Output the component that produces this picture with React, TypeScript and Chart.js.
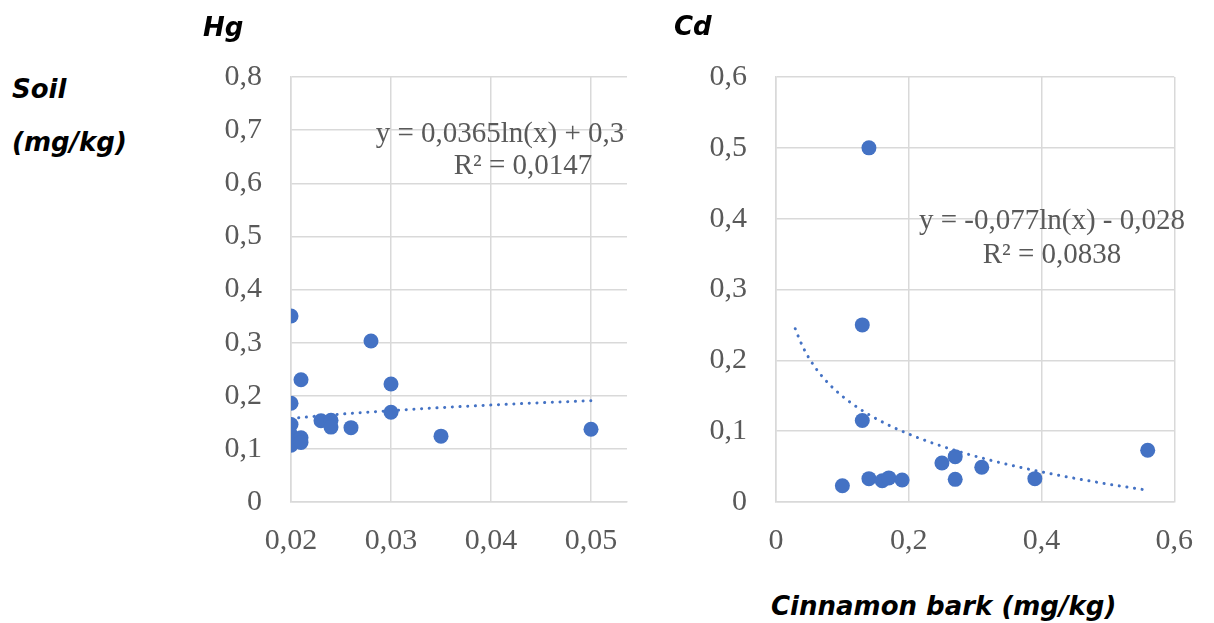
import React, { useEffect, useRef } from "react";
import { Chart, registerables } from "chart.js";
Chart.register(...registerables);

// ---- Hg (left) ----
const HG_X = [0.02, 0.028, 0.021, 0.03, 0.02, 0.02, 0.02, 0.02, 0.02, 0.021, 0.021, 0.023, 0.024, 0.024, 0.026, 0.03, 0.035, 0.05];
const HG_Y = [0.35, 0.303, 0.23, 0.222, 0.186, 0.146, 0.126, 0.115, 0.107, 0.121, 0.112, 0.153, 0.154, 0.141, 0.14, 0.169, 0.124, 0.137];
const HG_X_TICKS = [0.02, 0.03, 0.04, 0.05];
const HG_Y_TICKS = [0, 0.1, 0.2, 0.3, 0.4, 0.5, 0.6, 0.7, 0.8];
const HG_TREND_COEF = [0.0365, 0.3]; // y = a ln(x) + b
const HG_TREND_RANGE = [0.02, 0.05];
const HG_EQ = ["y = 0,0365ln(x) + 0,3", "R² = 0,0147"];

// ---- Cd (right) ----
const CD_X = [0.14, 0.13, 0.13, 0.1, 0.14, 0.16, 0.17, 0.19, 0.25, 0.27, 0.27, 0.31, 0.39, 0.56];
const CD_Y = [0.5, 0.25, 0.115, 0.023, 0.033, 0.03, 0.034, 0.031, 0.055, 0.064, 0.032, 0.049, 0.033, 0.073];
const CD_X_TICKS = [0, 0.2, 0.4, 0.6];
const CD_Y_TICKS = [0, 0.1, 0.2, 0.3, 0.4, 0.5, 0.6];
const CD_TREND_COEF = [-0.077, -0.028];
const CD_TREND_RANGE = [0.029, 0.56];
const CD_EQ = ["y = -0,077ln(x) - 0,028", "R² = 0,0838"];

const BLUE = "#4472C4";
const GRID = "#d9d9d9";
const TICK_COLOR = "#595959";

function trendPoints(coef: number[], range: number[]) {
  const n = 80;
  const pts: { x: number; y: number }[] = [];
  for (let i = 0; i <= n; i++) {
    const x = range[0] + ((range[1] - range[0]) * i) / n;
    pts.push({ x, y: coef[0] * Math.log(x) + coef[1] });
  }
  return pts;
}

type PanelProps = {
  left: number;
  top: number;
  width: number;
  height: number;
  yAxisWidth: number;
  xAxisHeight: number;
  padTop: number;
  padRight: number;
  xMin: number;
  xMax: number;
  yMin: number;
  yMax: number;
  xTicks: number[];
  yTicks: number[];
  xs: number[];
  ys: number[];
  coef: number[];
  range: number[];
};

function fmt(v: number) {
  return String(v).replace(".", ",");
}

function Panel(p: PanelProps) {
  const ref = useRef<HTMLCanvasElement | null>(null);
  useEffect(() => {
    if (!ref.current) return;
    const pts = p.xs.map((x, i) => ({ x, y: p.ys[i] }));
    const chart = new Chart(ref.current, {
      type: "scatter",
      data: {
        datasets: [
          {
            type: "line",
            data: trendPoints(p.coef, p.range),
            borderColor: BLUE,
            borderWidth: 3,
            borderDash: [0.1, 7.6],
            borderCapStyle: "round",
            pointRadius: 0,
            fill: false,
            tension: 0,
          } as any,
          {
            data: pts,
            backgroundColor: BLUE,
            borderColor: BLUE,
            borderWidth: 0,
            pointRadius: 7.5,
          },
        ],
      },
      options: {
        animation: false,
        responsive: false,
        devicePixelRatio: 1,
        events: [],
        layout: { padding: { top: p.padTop, right: p.padRight, left: 0, bottom: 0 } },
        plugins: { legend: { display: false }, tooltip: { enabled: false } },
        scales: {
          x: {
            type: "linear",
            min: p.xMin,
            max: p.xMax,
            afterBuildTicks: (axis: any) => {
              axis.ticks = p.xTicks.map((v) => ({ value: v }));
            },
            afterFit: (axis: any) => {
              axis.height = p.xAxisHeight;
            },
            grid: { color: GRID, lineWidth: 1.5, drawTicks: false },
            border: { color: GRID, width: 1.5 },
            ticks: {
              color: TICK_COLOR,
              padding: 21,
              font: { family: "'Liberation Serif'", size: 30 },
              callback: (v: any) => fmt(v),
              maxRotation: 0,
              autoSkip: false,
            },
          },
          y: {
            type: "linear",
            min: p.yMin,
            max: p.yMax,
            afterBuildTicks: (axis: any) => {
              axis.ticks = p.yTicks.map((v) => ({ value: v }));
            },
            afterFit: (axis: any) => {
              axis.width = p.yAxisWidth;
            },
            grid: { color: GRID, lineWidth: 1.5, drawTicks: false },
            border: { color: GRID, width: 1.5 },
            ticks: {
              color: TICK_COLOR,
              padding: 29,
              font: { family: "'Liberation Serif'", size: 30 },
              callback: (v: any) => fmt(v),
              autoSkip: false,
            },
          },
        },
      },
    } as any);
    return () => chart.destroy();
  }, []);
  return (
    <canvas
      ref={ref}
      width={p.width}
      height={p.height}
      style={{ position: "absolute", left: p.left, top: p.top, width: p.width, height: p.height }}
    />
  );
}

const sans: React.CSSProperties = {
  position: "absolute",
  fontFamily: "'DejaVu Sans', 'Noto Sans', sans-serif",
  fontWeight: 700,
  fontStyle: "italic",
  fontSize: 26,
  lineHeight: "26px",
  color: "#000",
  whiteSpace: "nowrap",
};

const serif: React.CSSProperties = {
  position: "absolute",
  fontFamily: "'Liberation Serif', serif",
  fontSize: 29,
  lineHeight: "29px",
  color: TICK_COLOR,
  whiteSpace: "nowrap",
  width: 400,
  textAlign: "center",
};

export default function App() {
  return (
    <div
      style={{
        position: "absolute",
        left: 0,
        top: 0,
        width: 1214,
        height: 623,
        background: "#fff",
        overflow: "hidden",
      }}
    >
      <Panel
        left={180}
        top={0}
        width={470}
        height={580}
        yAxisWidth={111}
        xAxisHeight={78}
        padTop={77}
        padRight={23}
        xMin={0.02}
        xMax={0.0536}
        yMin={0}
        yMax={0.8}
        xTicks={HG_X_TICKS}
        yTicks={HG_Y_TICKS}
        xs={HG_X}
        ys={HG_Y}
        coef={HG_TREND_COEF}
        range={HG_TREND_RANGE}
      />
      <Panel
        left={660}
        top={0}
        width={554}
        height={580}
        yAxisWidth={116}
        xAxisHeight={78}
        padTop={77}
        padRight={27}
        xMin={0}
        xMax={0.6}
        yMin={0}
        yMax={0.6}
        xTicks={CD_X_TICKS}
        yTicks={CD_Y_TICKS}
        xs={CD_X}
        ys={CD_Y}
        coef={CD_TREND_COEF}
        range={CD_TREND_RANGE}
      />
      <div style={{ ...sans, left: 203, top: 14 }}>Hg</div>
      <div style={{ ...sans, left: 674, top: 13 }}>Cd</div>
      <div style={{ ...sans, left: 12, top: 76 }}>Soil</div>
      <div style={{ ...sans, left: 12, top: 129 }}>(mg/kg)</div>
      <div style={{ ...sans, left: 771, top: 593 }}>Cinnamon bark (mg/kg)</div>
      <div style={{ ...serif, left: 500 - 200, top: 118 }}>{HG_EQ[0]}</div>
      <div style={{ ...serif, left: 523 - 200, top: 150 }}>{HG_EQ[1]}</div>
      <div style={{ ...serif, left: 1052 - 200, top: 205 }}>{CD_EQ[0]}</div>
      <div style={{ ...serif, left: 1052 - 200, top: 239 }}>{CD_EQ[1]}</div>
    </div>
  );
}
